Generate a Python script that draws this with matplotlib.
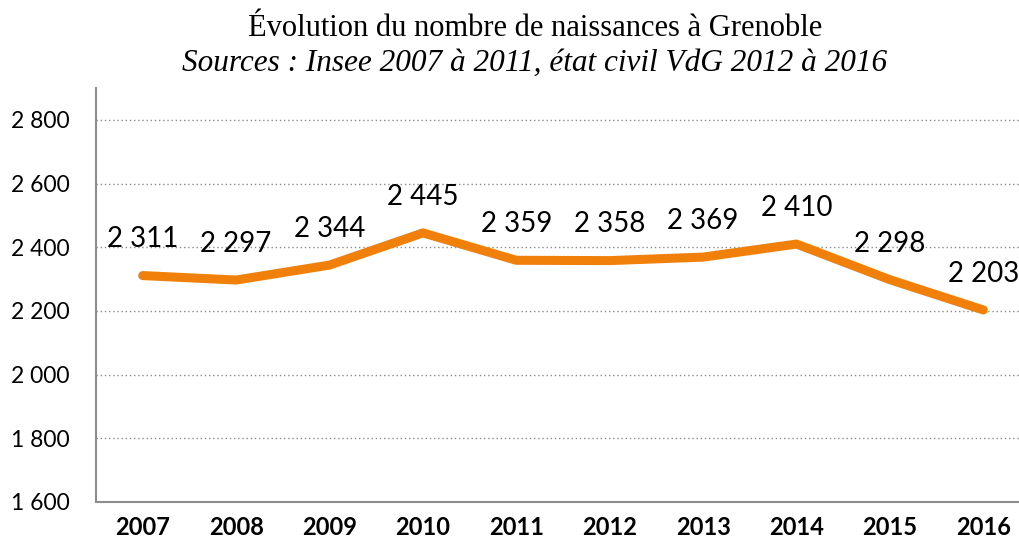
import numpy as np
import matplotlib.pyplot as plt

# births in Grenoble
years = ["2007", "2008", "2009", "2010", "2011", "2012", "2013", "2014", "2015", "2016"]
births = [2311, 2297, 2344, 2445, 2359, 2358, 2369, 2410, 2298, 2203]
yticks = [1600, 1800, 2000, 2200, 2400, 2600, 2800]


def fmt(v):
    return "{:,}".format(v).replace(",", " ")


fig = plt.figure(figsize=(10.19, 5.46), dpi=100)
ax = fig.add_axes([96/1019, 44/546, 934/1019, 414/546])

x = np.arange(len(years))
ax.plot(x, births, color="#F08009", lw=6.5, solid_capstyle="round", solid_joinstyle="round")
for xi, v in zip(x, births):
    ax.annotate(fmt(v), (xi, v), xytext=(0, 26), textcoords="offset points",
                ha="center", va="center", fontsize=20, family="Lato")

ax.set_xlim(-0.5, len(years) - 0.5)
ax.set_ylim(1600, 2900)
ax.set_yticks(yticks)
ax.set_yticklabels([fmt(v) for v in yticks], fontsize=16.5, family="Lato")
ax.set_xticks(x)
ax.set_xticklabels(years, fontsize=17, family="Lato", fontweight="bold")
ax.tick_params(axis="both", length=0)
ax.tick_params(axis="y", pad=19)
ax.tick_params(axis="x", pad=10)
ax.yaxis.grid(True, color="#8c8c8c", ls=(0, (1, 2)), lw=1)
ax.set_axisbelow(True)
for s in ["top", "right"]:
    ax.spines[s].set_visible(False)
for s in ["left", "bottom"]:
    ax.spines[s].set_color("#8c8c8c")
    ax.spines[s].set_linewidth(1.5)

fig.text(535/1019, 1 - 28/546, "Évolution du nombre de naissances à Grenoble",
         ha="center", va="center", fontsize=22, family="Liberation Serif")
fig.text(535/1019, 1 - 63/546, "Sources : Insee 2007 à 2011, état civil VdG 2012 à 2016",
         ha="center", va="center", fontsize=22.5, family="Liberation Serif", style="italic")

fig.savefig("out.png", dpi=100)
